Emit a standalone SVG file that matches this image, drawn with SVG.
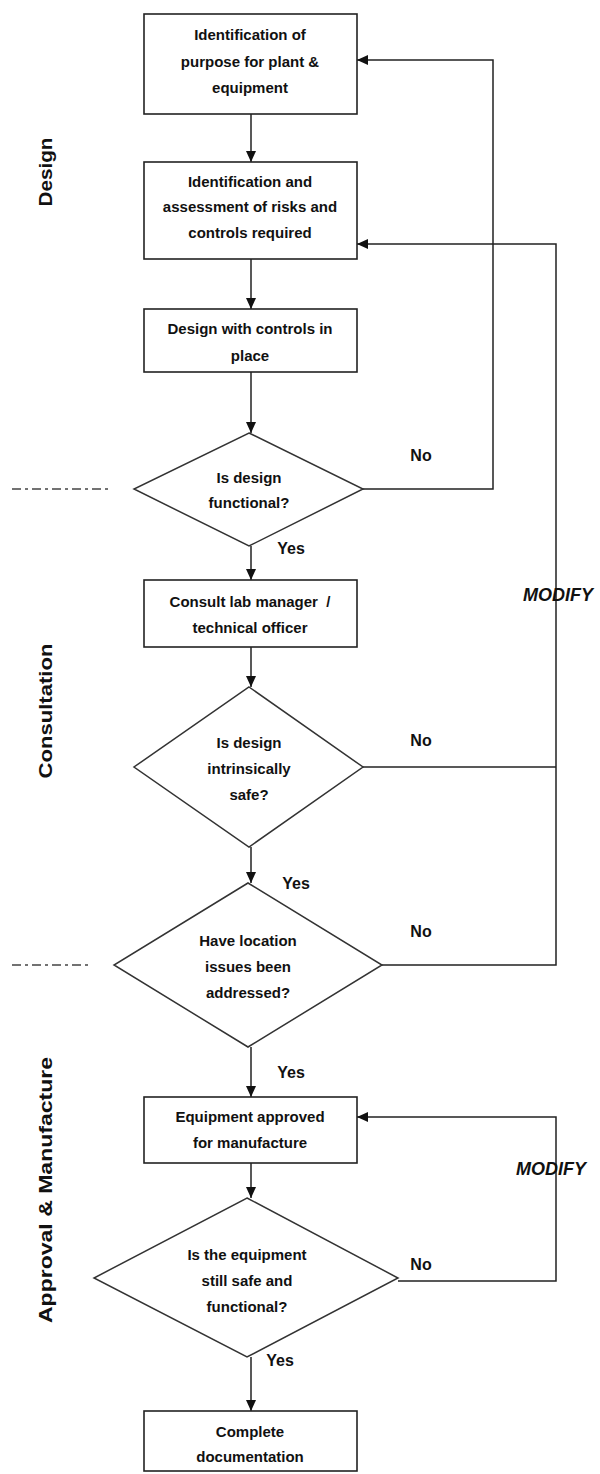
<svg xmlns="http://www.w3.org/2000/svg" width="600" height="1474" viewBox="0 0 600 1474">
<style>
.box{fill:#fff;stroke:#222;stroke-width:1.6}
.dia{fill:#fff;stroke:#333;stroke-width:1.5}
.t{font-family:"Liberation Sans",Arial,sans-serif;font-weight:bold;font-size:15px;fill:#111;text-anchor:middle;white-space:pre}
.lbl{font-family:"Liberation Sans",Arial,sans-serif;font-weight:bold;font-size:16px;fill:#111;text-anchor:middle}
.mod{font-family:"Liberation Sans",Arial,sans-serif;font-weight:bold;font-style:italic;font-size:18px;fill:#111;text-anchor:middle}
.side{font-family:"Liberation Sans",Arial,sans-serif;font-weight:bold;font-size:19px;fill:#111;text-anchor:middle}
.c{fill:none;stroke:#222;stroke-width:1.5}
.ca{fill:none;stroke:#222;stroke-width:1.5;marker-end:url(#ah)}
.dd{fill:none;stroke:#444;stroke-width:1.6;stroke-dasharray:9 4 3 4}
</style>
<defs>
<marker id="ah" markerUnits="userSpaceOnUse" markerWidth="11" markerHeight="10" refX="11" refY="5" orient="auto">
<path d="M0,0 L11,5 L0,10 z" fill="#111"/>
</marker>
</defs>

<g id="phase-labels">
<text class="side" transform="translate(52,172) rotate(-90)" textLength="69" lengthAdjust="spacingAndGlyphs">Design</text>
<text class="side" transform="translate(52,711) rotate(-90)" textLength="135" lengthAdjust="spacingAndGlyphs">Consultation</text>
<text class="side" transform="translate(52,1190) rotate(-90)" textLength="266" lengthAdjust="spacingAndGlyphs">Approval &amp; Manufacture</text>
<path class="dd" d="M12,489 H110"/>
<path class="dd" d="M12,965 H88"/>
</g>

<g id="connectors">
<path class="ca" d="M251,114 V162"/>
<path class="ca" d="M251,259 V309"/>
<path class="ca" d="M251,372 V433"/>
<path class="ca" d="M251,546 V580"/>
<path class="ca" d="M251,647 V687"/>
<path class="ca" d="M251,847 V883"/>
<path class="ca" d="M251,1047 V1097"/>
<path class="ca" d="M251,1163 V1198"/>
<path class="ca" d="M251,1357 V1411"/>
<path class="ca" d="M363,489 H493 V60 H357"/>
<path class="c" d="M363,767 H556"/>
<path class="ca" d="M382,965 H556 V244 H357"/>
<path class="ca" d="M398,1281 H556 V1117 H357"/>
<text class="lbl" x="421" y="461">No</text>
<text class="lbl" x="291" y="554">Yes</text>
<text class="mod" x="558" y="601">MODIFY</text>
<text class="lbl" x="421" y="746">No</text>
<text class="lbl" x="296" y="889">Yes</text>
<text class="lbl" x="421" y="937">No</text>
<text class="lbl" x="291" y="1078">Yes</text>
<text class="mod" x="551" y="1175">MODIFY</text>
<text class="lbl" x="421" y="1270">No</text>
<text class="lbl" x="280" y="1366">Yes</text>
</g>

<g id="n1">
<rect class="box" x="144" y="14" width="213" height="100"/>
<text class="t" x="250" y="40">Identification of</text>
<text class="t" x="250" y="67">purpose for plant &amp;</text>
<text class="t" x="250" y="93">equipment</text>
</g>
<g id="n2">
<rect class="box" x="144" y="162" width="213" height="97"/>
<text class="t" x="250" y="187">Identification and</text>
<text class="t" x="250" y="212">assessment of risks and</text>
<text class="t" x="250" y="238">controls required</text>
</g>
<g id="n3">
<rect class="box" x="144" y="309" width="213" height="63"/>
<text class="t" x="250" y="334">Design with controls in</text>
<text class="t" x="250" y="361">place</text>
</g>
<g id="d1">
<polygon class="dia" points="249,433 363,489 249,546 134,489"/>
<text class="t" x="249" y="483">Is design</text>
<text class="t" x="249" y="508">functional?</text>
</g>
<g id="n4">
<rect class="box" x="144" y="580" width="213" height="67"/>
<text class="t" x="250" y="607">Consult lab manager  /</text>
<text class="t" x="250" y="633">technical officer</text>
</g>
<g id="d2">
<polygon class="dia" points="249,687 363,767 249,847 134,767"/>
<text class="t" x="249" y="748">Is design</text>
<text class="t" x="249" y="774">intrinsically</text>
<text class="t" x="249" y="800">safe?</text>
</g>
<g id="d3">
<polygon class="dia" points="248,883 382,965 248,1047 114,965"/>
<text class="t" x="248" y="946">Have location</text>
<text class="t" x="248" y="972">issues been</text>
<text class="t" x="248" y="998">addressed?</text>
</g>
<g id="n5">
<rect class="box" x="144" y="1097" width="213" height="66"/>
<text class="t" x="250" y="1122">Equipment approved</text>
<text class="t" x="250" y="1148">for manufacture</text>
</g>
<g id="d4">
<polygon class="dia" points="247,1198 398,1278 247,1357 94,1278"/>
<text class="t" x="247" y="1260">Is the equipment</text>
<text class="t" x="247" y="1286">still safe and</text>
<text class="t" x="247" y="1312">functional?</text>
</g>
<g id="n6">
<rect class="box" x="144" y="1411" width="213" height="60"/>
<text class="t" x="250" y="1437">Complete</text>
<text class="t" x="250" y="1462">documentation</text>
</g>
</svg>
